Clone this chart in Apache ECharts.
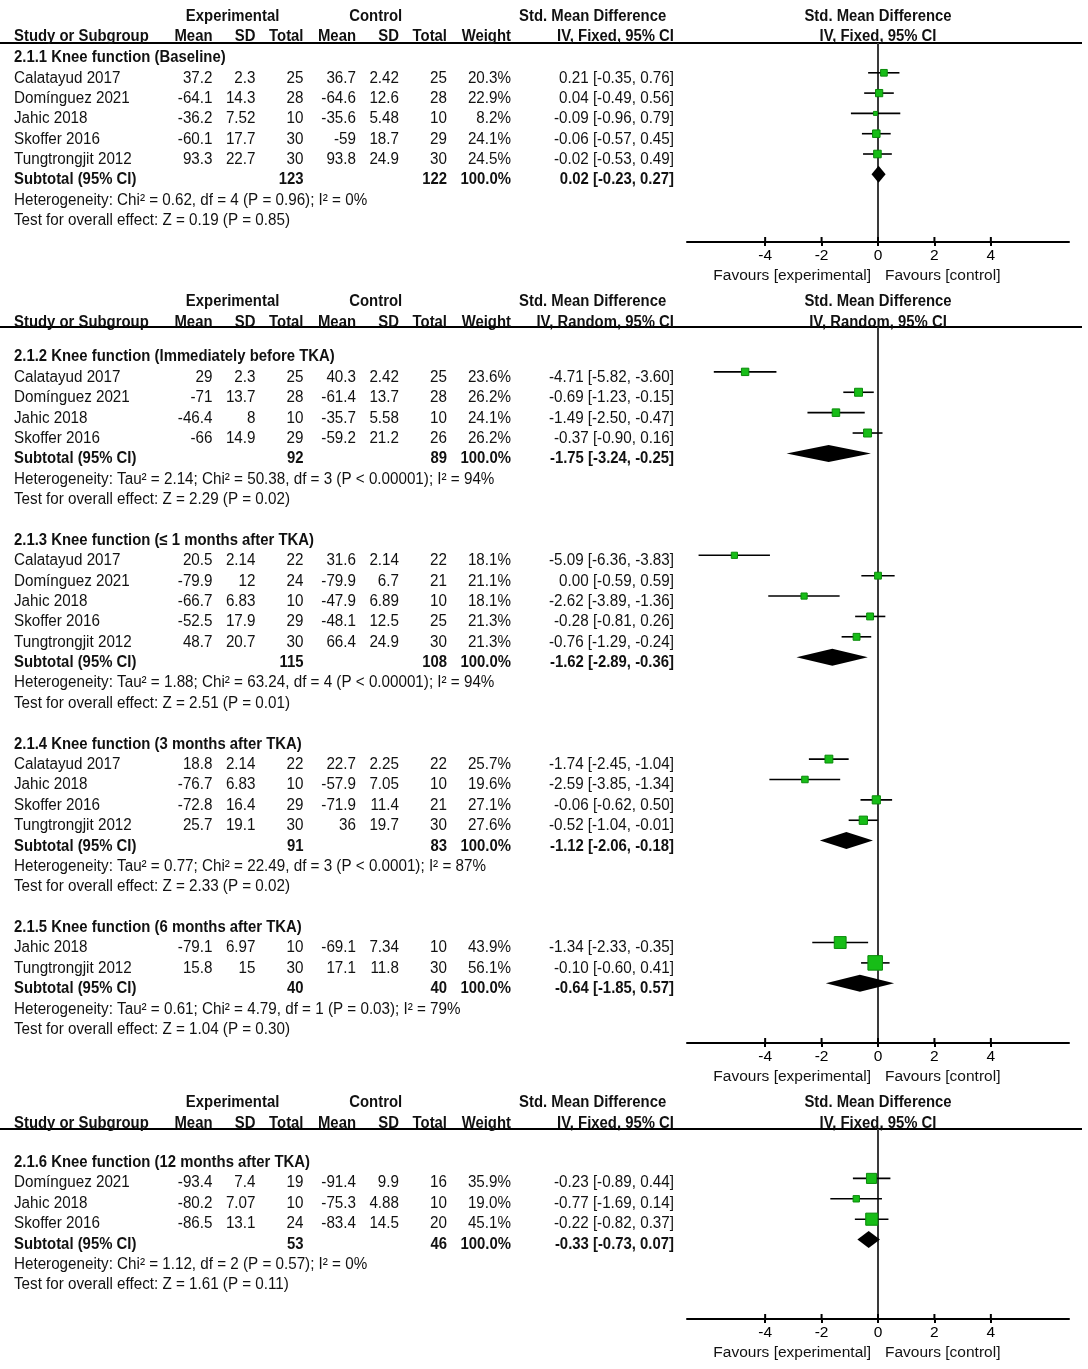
<!DOCTYPE html>
<html><head><meta charset="utf-8">
<script src="https://cdn.jsdelivr.net/npm/echarts@6/dist/echarts.min.js"></script>
<style>html,body{margin:0;padding:0;background:#fff}#c{width:1088px;height:1369px}</style>
</head><body><div id="c"></div>
<script>
// ---------------- DATA ----------------
const subgroupTitles = [
  '2.1.1 Knee function (Baseline)',
  '2.1.2 Knee function (Immediately before TKA)',
  '2.1.3 Knee function (≤ 1 months after TKA)',
  '2.1.4 Knee function (3 months after TKA)',
  '2.1.5 Knee function (6 months after TKA)',
  '2.1.6 Knee function (12 months after TKA)'
];
const subgroupPanel = [0, 1, 1, 1, 1, 2];
const panelModel = ['IV, Fixed, 95% CI', 'IV, Random, 95% CI', 'IV, Fixed, 95% CI'];

const studyGroup = [0,0,0,0,0, 1,1,1,1, 2,2,2,2,2, 3,3,3,3, 4,4, 5,5,5];
const studyName = [
  'Calatayud 2017','Domínguez 2021','Jahic 2018','Skoffer 2016','Tungtrongjit 2012',
  'Calatayud 2017','Domínguez 2021','Jahic 2018','Skoffer 2016',
  'Calatayud 2017','Domínguez 2021','Jahic 2018','Skoffer 2016','Tungtrongjit 2012',
  'Calatayud 2017','Jahic 2018','Skoffer 2016','Tungtrongjit 2012',
  'Jahic 2018','Tungtrongjit 2012',
  'Domínguez 2021','Jahic 2018','Skoffer 2016'
];
const expMean = [37.2,-64.1,-36.2,-60.1,93.3, 29,-71,-46.4,-66, 20.5,-79.9,-66.7,-52.5,48.7, 18.8,-76.7,-72.8,25.7, -79.1,15.8, -93.4,-80.2,-86.5];
const expSD   = [2.3,14.3,7.52,17.7,22.7, 2.3,13.7,8,14.9, 2.14,12,6.83,17.9,20.7, 2.14,6.83,16.4,19.1, 6.97,15, 7.4,7.07,13.1];
const expN    = [25,28,10,30,30, 25,28,10,29, 22,24,10,29,30, 22,10,29,30, 10,30, 19,10,24];
const ctlMean = [36.7,-64.6,-35.6,-59,93.8, 40.3,-61.4,-35.7,-59.2, 31.6,-79.9,-47.9,-48.1,66.4, 22.7,-57.9,-71.9,36, -69.1,17.1, -91.4,-75.3,-83.4];
const ctlSD   = [2.42,12.6,5.48,18.7,24.9, 2.42,13.7,5.58,21.2, 2.14,6.7,6.89,12.5,24.9, 2.25,7.05,11.4,19.7, 7.34,11.8, 9.9,4.88,14.5];
const ctlN    = [25,28,10,29,30, 25,28,10,26, 22,21,10,25,30, 22,10,21,30, 10,30, 16,10,20];
const weight  = [20.3,22.9,8.2,24.1,24.5, 23.6,26.2,24.1,26.2, 18.1,21.1,18.1,21.3,21.3, 25.7,19.6,27.1,27.6, 43.9,56.1, 35.9,19.0,45.1];
const smd     = [0.21,0.04,-0.09,-0.06,-0.02, -4.71,-0.69,-1.49,-0.37, -5.09,0.00,-2.62,-0.28,-0.76, -1.74,-2.59,-0.06,-0.52, -1.34,-0.10, -0.23,-0.77,-0.22];
const ciLow   = [-0.35,-0.49,-0.96,-0.57,-0.53, -5.82,-1.23,-2.50,-0.90, -6.36,-0.59,-3.89,-0.81,-1.29, -2.45,-3.85,-0.62,-1.04, -2.33,-0.60, -0.89,-1.69,-0.82];
const ciHigh  = [0.76,0.56,0.79,0.45,0.49, -3.60,-0.15,-0.47,0.16, -3.83,0.59,-1.36,0.26,-0.24, -1.04,-1.34,0.50,-0.01, -0.35,0.41, 0.44,0.14,0.37];

const subExpN  = [123, 92, 115, 91, 40, 53];
const subCtlN  = [122, 89, 108, 83, 40, 46];
const subSMD   = [0.02, -1.75, -1.62, -1.12, -0.64, -0.33];
const subLow   = [-0.23, -3.24, -2.89, -2.06, -1.85, -0.73];
const subHigh  = [0.27, -0.25, -0.36, -0.18, 0.57, 0.07];
const subHet = [
  'Heterogeneity: Chi² = 0.62, df = 4 (P = 0.96); I² = 0%',
  'Heterogeneity: Tau² = 2.14; Chi² = 50.38, df = 3 (P < 0.00001); I² = 94%',
  'Heterogeneity: Tau² = 1.88; Chi² = 63.24, df = 4 (P < 0.00001); I² = 94%',
  'Heterogeneity: Tau² = 0.77; Chi² = 22.49, df = 3 (P < 0.0001); I² = 87%',
  'Heterogeneity: Tau² = 0.61; Chi² = 4.79, df = 1 (P = 0.03); I² = 79%',
  'Heterogeneity: Chi² = 1.12, df = 2 (P = 0.57); I² = 0%'
];
const subTest = [
  'Test for overall effect: Z = 0.19 (P = 0.85)',
  'Test for overall effect: Z = 2.29 (P = 0.02)',
  'Test for overall effect: Z = 2.51 (P = 0.01)',
  'Test for overall effect: Z = 2.33 (P = 0.02)',
  'Test for overall effect: Z = 1.04 (P = 0.30)',
  'Test for overall effect: Z = 1.61 (P = 0.11)'
];
const tickValues = [-4, -2, 0, 2, 4];
const favoursLabels = ['Favours [experimental]', 'Favours [control]'];
const headerTop = ['Experimental', 'Control', 'Std. Mean Difference', 'Std. Mean Difference'];
const headerCols = ['Study or Subgroup', 'Mean', 'SD', 'Total', 'Mean', 'SD', 'Total', 'Weight'];

// ---------------- LAYOUT ----------------
const FONT = "'Liberation Sans', Arial, sans-serif";
const PANELS = [
  {row0: 52.5,  step: 20.3,  hdrLine: 43,   axisY: 242,  hdr1: 17,   hdr2: 36.5,   dy: 5.5},
  {row0: 351.5, step: 20.38, hdrLine: 327,  axisY: 1043, hdr1: 302,  hdr2: 322.5,  dy: 5.5},
  {row0: 1158,  step: 20.4,  hdrLine: 1129, axisY: 1319, hdr1: 1103, hdr2: 1123.5, dy: 4.5}
];
const COLS = {name: 14, em: 212.5, esd: 255.5, en: 303.5, cm: 356, csd: 399, cn: 447, w: 511, ci: 674};
const HCENT = {exp: 232.6, ctl: 375.7, smd: 592.6, plot: 878};
const PLOT_LEFT = 687, PLOT_W = 382, XR = 6.77;
const SCALE_BOLD = 0.93, SCALE_REG = 0.95;

const f2 = v => v.toFixed(2);
const ciText = (m, l, h) => `${f2(m)} [${f2(l)}, ${f2(h)}]`;

const grids = [], xAxes = [], yAxes = [], series = [];

PANELS.forEach((P, pi) => {
  const yMin = (P.hdrLine - P.row0) / P.step;
  const yMax = (P.axisY - P.row0) / P.step;
  const toRow = px => (px - P.row0) / P.step;
  const gT = grids.length;
  grids.push({left: 0, top: P.hdrLine, width: 1088, height: P.axisY - P.hdrLine, containLabel: false});
  xAxes.push({type: 'value', gridIndex: gT, min: 0, max: 1088, show: false});
  yAxes.push({type: 'value', gridIndex: gT, min: yMin, max: yMax, inverse: true, show: false});
  const gP = grids.length;
  grids.push({left: PLOT_LEFT, top: P.hdrLine, width: PLOT_W, height: P.axisY - P.hdrLine, containLabel: false});
  xAxes.push({
    type: 'value', gridIndex: gP, min: -XR, max: XR, position: 'bottom',
    splitLine: {show: false},
    axisLine: {show: true, onZero: false, lineStyle: {color: '#000', width: 2}},
    axisTick: {show: true, customValues: tickValues, length: 4, lineStyle: {color: '#000', width: 2}},
    axisLabel: {show: true, customValues: tickValues, color: '#000', fontSize: 15.5, fontFamily: FONT, margin: 6}
  });
  yAxes.push({type: 'value', gridIndex: gP, min: yMin, max: yMax, inverse: true, show: false});

  // ---- build cells & marks ----
  const cells = [];
  const add = (x, row, text, align, bold, dy) => cells.push({x, row, text, align, bold, dy});
  add(HCENT.exp, toRow(P.hdr1), headerTop[0], 'center', true, 0);
  add(HCENT.ctl, toRow(P.hdr1), headerTop[1], 'center', true, 0);
  add(HCENT.smd, toRow(P.hdr1), headerTop[2], 'center', true, 0);
  add(HCENT.plot, toRow(P.hdr1), headerTop[3], 'center', true, 0);
  const hx = [COLS.name, COLS.em, COLS.esd, COLS.en, COLS.cm, COLS.csd, COLS.cn, COLS.w];
  headerCols.forEach((t, i) => add(hx[i], toRow(P.hdr2), t, i === 0 ? 'left' : 'right', true, 0));
  add(COLS.ci, toRow(P.hdr2), panelModel[pi], 'right', true, 0);
  add(HCENT.plot, toRow(P.hdr2), panelModel[pi], 'center', true, 0);

  const DY = P.dy;
  const studyMarks = [], diamonds = [];
  let r = 0;
  subgroupTitles.forEach((title, g) => {
    if (subgroupPanel[g] !== pi) return;
    add(COLS.name, r, title, 'left', true, DY);
    let k = 1;
    studyName.forEach((nm, i) => {
      if (studyGroup[i] !== g) return;
      const rr = r + k;
      add(COLS.name, rr, nm, 'left', false, DY);
      add(COLS.em, rr, String(expMean[i]), 'right', false, DY);
      add(COLS.esd, rr, String(expSD[i]), 'right', false, DY);
      add(COLS.en, rr, String(expN[i]), 'right', false, DY);
      add(COLS.cm, rr, String(ctlMean[i]), 'right', false, DY);
      add(COLS.csd, rr, String(ctlSD[i]), 'right', false, DY);
      add(COLS.cn, rr, String(ctlN[i]), 'right', false, DY);
      add(COLS.w, rr, weight[i].toFixed(1) + '%', 'right', false, DY);
      add(COLS.ci, rr, ciText(smd[i], ciLow[i], ciHigh[i]), 'right', false, DY);
      studyMarks.push([smd[i], rr, ciLow[i], ciHigh[i], weight[i]]);
      k++;
    });
    const rs = r + k;
    add(COLS.name, rs, 'Subtotal (95% CI)', 'left', true, DY);
    add(COLS.en, rs, String(subExpN[g]), 'right', true, DY);
    add(COLS.cn, rs, String(subCtlN[g]), 'right', true, DY);
    add(COLS.w, rs, '100.0%', 'right', true, DY);
    add(COLS.ci, rs, ciText(subSMD[g], subLow[g], subHigh[g]), 'right', true, DY);
    diamonds.push([subSMD[g], rs, subLow[g], subHigh[g]]);
    add(COLS.name, rs + 1, subHet[g], 'left', false, DY);
    add(COLS.name, rs + 2, subTest[g], 'left', false, DY);
    r = rs + 4;
  });

  // header rule
  series.push({
    type: 'custom', xAxisIndex: gT, yAxisIndex: gT, silent: true, z: 1,
    data: [[0, yMin]],
    renderItem: (params, api) => {
      const a = api.coord([0, yMin]), b = api.coord([1082, yMin]);
      return {type: 'line', shape: {x1: a[0], y1: a[1], x2: b[0], y2: b[1]}, style: {stroke: '#000', lineWidth: 2}};
    }
  });
  // table text
  series.push({
    type: 'custom', xAxisIndex: gT, yAxisIndex: gT, silent: true, z: 3,
    data: cells.map(c => [c.x, c.row]),
    renderItem: (params, api) => {
      const c = cells[params.dataIndex];
      const p = api.coord([api.value(0), api.value(1)]);
      return {
        type: 'text', x: p[0], y: p[1] + c.dy, scaleX: c.bold ? SCALE_BOLD : SCALE_REG,
        style: {text: c.text, align: c.align, verticalAlign: 'middle', fontFamily: FONT,
                fontSize: 16, fontWeight: c.bold ? 'bold' : 'normal', fill: '#111'}
      };
    }
  });
  // zero line
  series.push({
    type: 'custom', xAxisIndex: gP, yAxisIndex: gP, silent: true, z: 1,
    data: [[0, yMin, yMax]],
    renderItem: (params, api) => {
      const a = api.coord([api.value(0), api.value(1)]), b = api.coord([api.value(0), api.value(2)]);
      return {type: 'line', shape: {x1: a[0], y1: a[1], x2: b[0], y2: b[1]}, style: {stroke: '#3a3a3a', lineWidth: 2}};
    }
  });
  // upper half of the axis ticks (ticks cross the axis line in the reference)
  series.push({
    type: 'custom', xAxisIndex: gP, yAxisIndex: gP, silent: true, z: 2,
    data: tickValues.map(v => [v, yMax]),
    renderItem: (params, api) => {
      const p = api.coord([api.value(0), api.value(1)]);
      return {type: 'line', shape: {x1: p[0], y1: p[1] - 5, x2: p[0], y2: p[1]}, style: {stroke: '#000', lineWidth: 2}};
    }
  });
  // favours labels
  series.push({
    type: 'custom', xAxisIndex: gP, yAxisIndex: gP, silent: true, z: 3,
    data: [[0, yMax]],
    renderItem: (params, api) => {
      const p = api.coord([api.value(0), api.value(1)]);
      return {type: 'group', children: [
        {type: 'text', x: p[0] - 7, y: p[1] + 34, style: {text: favoursLabels[0], align: 'right', verticalAlign: 'middle', fontFamily: FONT, fontSize: 15.5, fill: '#111'}},
        {type: 'text', x: p[0] + 7, y: p[1] + 34, style: {text: favoursLabels[1], align: 'left', verticalAlign: 'middle', fontFamily: FONT, fontSize: 15.5, fill: '#111'}}
      ]};
    }
  });
  // study CI + squares
  series.push({
    type: 'custom', xAxisIndex: gP, yAxisIndex: gP, silent: true, z: 4,
    data: studyMarks,
    renderItem: (params, api) => {
      const row = api.value(1);
      const c = api.coord([api.value(0), row]);
      const lo = api.coord([api.value(2), row]);
      const hi = api.coord([api.value(3), row]);
      const s = 2.2 + 0.22 * api.value(4);
      return {type: 'group', children: [
        {type: 'line', shape: {x1: lo[0], y1: c[1], x2: hi[0], y2: c[1]}, style: {stroke: '#000', lineWidth: 1.6}},
        {type: 'rect', shape: {x: c[0] - s / 2, y: c[1] - s / 2, width: s, height: s}, style: {fill: '#17bd17', stroke: '#0a8a0a', lineWidth: 1}}
      ]};
    }
  });
  // diamonds
  series.push({
    type: 'custom', xAxisIndex: gP, yAxisIndex: gP, silent: true, z: 4,
    data: diamonds,
    renderItem: (params, api) => {
      const row = api.value(1);
      const c = api.coord([api.value(0), row]);
      const lo = api.coord([api.value(2), row]);
      const hi = api.coord([api.value(3), row]);
      return {type: 'polygon', shape: {points: [[lo[0], c[1]], [c[0], c[1] - 8.5], [hi[0], c[1]], [c[0], c[1] + 8.5]]},
              style: {fill: '#000'}};
    }
  });
});

const chart = echarts.init(document.getElementById('c'), null, {renderer: 'canvas', width: 1088, height: 1369});
chart.setOption({
  animation: false,
  backgroundColor: '#fff',
  grid: grids, xAxis: xAxes, yAxis: yAxes, series: series
});
</script>
</body></html>
